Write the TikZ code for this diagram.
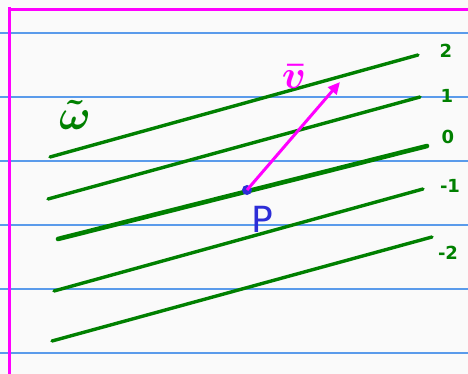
\documentclass[tikz,border=0pt]{standalone}
\usepackage{amsmath}
\usepackage{fontspec}
\setsansfont{DejaVu Sans}
\usetikzlibrary{arrows.meta}

\definecolor{inkgreen}{RGB}{0,128,0}
\definecolor{inkpink}{RGB}{255,0,255}
\definecolor{inkblue}{RGB}{45,45,215}
\definecolor{ruleblue}{RGB}{90,155,235}
\definecolor{paper}{RGB}{250,250,250}

\tikzset{
  rule/.style={ruleblue,line width=1.3pt},
  margin/.style={inkpink,line width=3pt},
  form/.style={inkgreen,line width=3.4pt,line cap=round},
  lab/.style={inkgreen,font=\sffamily\bfseries\fontsize{18}{18}\selectfont},
}

\begin{document}
\begin{tikzpicture}[x=1pt,y=-1pt]
    \fill[paper] (0,0) rectangle (468,374);
    \useasboundingbox (0,0) rectangle (468,374);

    % lined paper
    \foreach \y in {33,97,161,225,289,353}{
      \draw[rule] (0,\y) -- (468,\y);
    }
    \draw[margin] (9,7) -- (9,374);
    \draw[margin] (11,10) -- (468,10);

    % level sets of the form
    \foreach \n\xa\ya\xb\yb\w\t\lx\ly in {
        1/50/157/418/55/3.4/2/446/51,
        2/48/199/420/97/3.4/1/447/96,
        3/58/239/427/146/4.6/0/448/137,
        4/54/291/423/189/3.4/-1/450/186,
        5/52/341/432/237/3.4/-2/448/253}{
      \coordinate (a\n) at (\xa,\ya);
      \coordinate (b\n) at (\xb,\yb);
      \draw[form,line width=\w pt] (a\n) -- (b\n);
      \node[lab] (l\n) at (\lx,\ly) {\t};
    }
    \node[inkgreen,inner sep=0pt] (omega) at (75,115) {\scalebox{4.2}{$\boldsymbol{\tilde{\omega}}$}};

    % point and vector
    \node[circle,fill=inkblue,inner sep=0pt,minimum size=10pt] (P) at (247,190) {};
    \node[inkblue,font=\sffamily\fontsize{36}{36}\selectfont] (Plab) at (262,219) {P};
    \coordinate (tip) at (340,82);
    \draw[inkpink,line width=3pt,-{Triangle[length=12pt,width=11pt]}] (P.center) -- (tip);
    \node[inkpink,inner sep=0pt] (vlab) at (294,77) {\scalebox{4}{$\boldsymbol{\bar{v}}$}};
\end{tikzpicture}
\end{document}
